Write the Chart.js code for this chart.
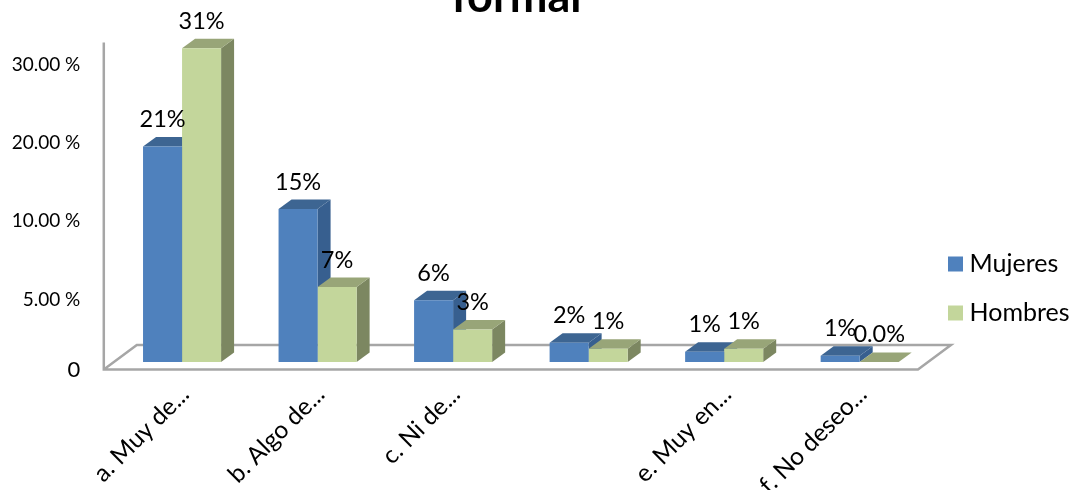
<!DOCTYPE html>
<html>
<head>
<meta charset="utf-8">
<style>html,body{margin:0;padding:0;background:#fff;overflow:hidden}canvas{display:block}</style>
<script src="https://cdn.jsdelivr.net/npm/chart.js@4"></script>
</head>
<body>
<canvas id="c" width="1077" height="490"></canvas>
<script>
const categories = ["a. Muy de...", "b. Algo de...", "c. Ni de...", "", "e. Muy en...", "f. No deseo..."];
const mujeres = [21.3, 15.1, 6.1, 1.9, 1.0, 0.6];
const hombres = [31.0, 7.4, 3.2, 1.3, 1.3, 0];
const mujeresLabels = ["21%", "15%", "6%", "2%", "1%", "1%"];
const hombresLabels = ["31%", "7%", "3%", "1%", "1%", "0.0%"];
const tickValues = [-0.8, 6.1, 13.9, 21.6, 29.4];
const tickLabels = ["0", "5.00 %", "10.00 %", "20.00 %", "30.00 %"];
const titleText = "formal";
const FF = "Lato, Carlito, sans-serif";

const DX = 13, DY = 9.5;
const faces = [
  {top: "#3d6592", side: "#375f8f", labels: mujeresLabels},
  {top: "#98a578", side: "#7c8761", labels: hombresLabels}
];
function poly(ctx, pts, fill) {
  ctx.beginPath();
  pts.forEach((p, i) => i ? ctx.lineTo(p[0], p[1]) : ctx.moveTo(p[0], p[1]));
  ctx.closePath();
  ctx.fillStyle = fill;
  ctx.fill();
}
const scene = {
  id: "scene",
  beforeLayout(chart) {
    chart.legend.afterFit = function () { this.width = 151.5; };
  },
  beforeDraw(chart) {
    const l = chart.legend;
    l.left = 930; l.right = 1077; l.top = 158; l.bottom = 419;
    const t = chart.titleBlock;
    t.left = -22; t.right = 1055;
  },
  beforeDatasetsDraw(chart) {
    const ctx = chart.ctx, xs = chart.scales.x, ys = chart.scales.y;
    const fy = ys.bottom - 0.5, by = fy - 24.5;
    const lx = xs.left - 10.5, rx = xs.right - 9.5;
    ctx.save();
    ctx.strokeStyle = "#a6a6a6";
    ctx.lineWidth = 2.5;
    ctx.beginPath();
    ctx.moveTo(lx, ys.top - 3);
    ctx.lineTo(lx, fy);
    ctx.lineTo(rx, fy);
    ctx.lineTo(rx + 33, by);
    ctx.lineTo(lx + 33, by);
    ctx.lineTo(lx, fy);
    ctx.stroke();
    chart.data.datasets.forEach((ds, d) => {
      chart.getDatasetMeta(d).data.forEach(bar => {
        const p = bar.getProps(["x", "y", "base", "width"], true);
        const L = p.x - p.width / 2, R = p.x + p.width / 2;
        poly(ctx, [[R, p.y], [R + DX, p.y - DY], [R + DX, p.base - DY], [R, p.base]], faces[d].side);
        poly(ctx, [[L, p.y], [L + DX, p.y - DY], [R + DX, p.y - DY], [R, p.y]], faces[d].top);
      });
    });
    ctx.restore();
  },
  afterDatasetsDraw(chart) {
    const ctx = chart.ctx;
    ctx.save();
    ctx.fillStyle = "#000";
    ctx.font = "23.5px " + FF;
    ctx.textAlign = "center";
    ctx.textBaseline = "middle";
    chart.data.datasets.forEach((ds, d) => {
      chart.getDatasetMeta(d).data.forEach((bar, i) => {
        const p = bar.getProps(["x", "y"], true);
        ctx.fillText(faces[d].labels[i], p.x, p.y - 27);
      });
    });
    ctx.restore();
  }
};

new Chart(document.getElementById("c"), {
  type: "bar",
  data: {
    labels: categories,
    datasets: [
      {label: "Mujeres", data: mujeres, backgroundColor: "#4f81bd", borderWidth: 0},
      {label: "Hombres", data: hombres, backgroundColor: "#c3d69b", borderWidth: 0}
    ]
  },
  plugins: [scene],
  options: {
    responsive: false,
    animation: false,
    devicePixelRatio: 1,
    layout: {padding: 0},
    datasets: {bar: {categoryPercentage: 0.576, barPercentage: 1}},
    plugins: {
      tooltip: {enabled: false},
      title: {
        display: true,
        text: titleText,
        color: "#000",
        font: {family: FF, size: 45, weight: "bold", lineHeight: 1.2},
        padding: {top: -35.25, bottom: 21.25}
      },
      legend: {
        position: "right",
        labels: {
          boxWidth: 3, boxHeight: 3, padding: 24, color: "#000",
          font: {family: FF, size: 25},
          generateLabels: chart => Chart.defaults.plugins.legend.labels.generateLabels(chart)
            .map(item => ({...item, lineWidth: 12, strokeStyle: item.fillStyle}))
        }
      }
    },
    scales: {
      x: {
        grid: {display: false},
        border: {display: false},
        afterFit(s) { s.height = 120; },
        ticks: {
          autoSkip: false, minRotation: 45, maxRotation: 45,
          padding: 2, labelOffset: 3, color: "#000",
          font: {family: FF, size: 24.5}
        }
      },
      y: {
        min: -0.8, max: 31.28,
        grid: {display: false, drawTicks: false},
        border: {display: false},
        afterFit(s) { s.width = 114.3; },
        afterBuildTicks(s) { s.ticks = tickValues.map(v => ({value: v})); },
        ticks: {
          padding: 34, color: "#000",
          callback: (v, i) => tickLabels[i],
          font: ctx => ({family: FF, size: ctx.index === 0 ? 22 : 19})
        }
      }
    }
  }
});
</script>
</body>
</html>
